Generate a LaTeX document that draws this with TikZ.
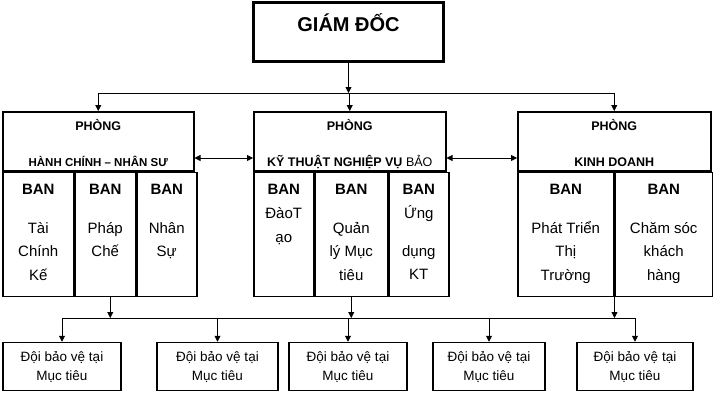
\documentclass[tikz,border=0pt]{standalone}
\usepackage{fontspec}
\setmainfont{Liberation Sans}
\usetikzlibrary{positioning,arrows.meta}
\tikzset{chief/.style={draw,line width=2.4pt,minimum width=190pt,minimum height=59pt},
  chief text/.style={font=\bfseries\fontsize{20}{22}\selectfont,inner sep=0pt,text height=14pt,text depth=0pt},
  room/.style={draw,line width=1.5pt,anchor=north west,minimum height=59pt},
  room text/.style={font=\bfseries\fontsize{12.5}{15}\selectfont,inner sep=0pt,text height=9pt,text depth=0pt},
  ban/.style={draw,line width=1.5pt,anchor=north west,minimum height=124pt},
  ban text/.style={align=center,inner sep=0pt,font=\fontsize{15}{23.5}\selectfont},
  team/.style={draw,line width=1.5pt,minimum height=48pt,align=center,font=\fontsize{13.5}{19}\selectfont},
  link/.style={line width=0.8pt,-{Triangle[length=6pt,width=6pt]}},
  both/.style={line width=0.8pt,{Triangle[length=6pt,width=6pt]}-{Triangle[length=6pt,width=6pt]}},
}
\begin{document}
\begin{tikzpicture}[x=1pt,y=-1pt]
\useasboundingbox (0,0) rectangle (714,402);
\node[chief] (GD) at (348.5,32) {};
\node[chief text, below=15.5pt of GD.north] (GDt) {GIÁM ĐỐC};

% cac phong
\node[room,minimum width=191pt] (HC) at (2,111) {};
\node[room,minimum width=192pt] (KT) at (253,111) {};
\node[room,minimum width=193pt] (KD) at (517,111) {};
\node[room text, below=10pt of HC.north] (HCa) {PHÒNG};
\node[room text, above=5pt of HC.south, font=\bfseries\fontsize{11.5}{15}\selectfont] (HCb) {HÀNH CHÍNH – NHÂN SƯ};
\node[room text, below=10pt of KT.north] (KTa) {PHÒNG};
\node[room text, above=5pt of KT.south] (KTb) {KỸ THUẬT NGHIỆP VỤ \textmd{BẢO}};
\node[room text, below=10pt of KD.north] (KDa) {PHÒNG};
\node[room text, above=5pt of KD.south] (KDb) {KINH DOANH};

% cac ban
\node[ban,minimum width=71pt] (HC1) at (HC.south west) {};
\node[ban,minimum width=60pt] (HC2) at (HC1.north east) {};
\node[ban,minimum width=60pt] (HC3) at (HC2.north east) {};
\node[ban,minimum width=60pt] (KT1) at (KT.south west) {};
\node[ban,minimum width=72pt] (KT2) at (KT1.north east) {};
\node[ban,minimum width=60pt] (KT3) at (KT2.north east) {};
\node[ban,minimum width=96pt] (KD1) at (KD.south west) {};
\node[ban,minimum width=97pt] (KD2) at (KD1.north east) {};

\node[ban text, below=12pt of HC1.north] (HC1t) {\textbf{BAN}\\[15.5pt]Tài\\Chính\\Kế};
\node[ban text, below=12pt of HC2.north] (HC2t) {\textbf{BAN}\\[15.5pt]Pháp\\Chế};
\node[ban text, below=12pt of HC3.north] (HC3t) {\textbf{BAN}\\[15.5pt]Nhân\\Sự};
\node[ban text, below=12pt of KT1.north] (KT1t) {\textbf{BAN}\\[1pt]ĐàoT\\ạo};
\node[ban text, below=12pt of KT2.north] (KT2t) {\textbf{BAN}\\[15.5pt]Quản\\lý Mục\\tiêu};
\node[ban text, below=12pt of KT3.north] (KT3t) {\textbf{BAN}\\[1pt]Ứng\\[14pt]dụng\\KT};
\node[ban text, below=12pt of KD1.north] (KD1t) {\textbf{BAN}\\[15.5pt]Phát Triển\\Thị\\Trường};
\node[ban text, below=12pt of KD2.north] (KD2t) {\textbf{BAN}\\[15.5pt]Chăm sóc\\khách\\hàng};

% doi bao ve
\node[team,minimum width=118pt] (T1) at (62,366.5) {Đội bảo vệ tại\\Mục tiêu};
\node[team,minimum width=121pt] (T2) at (217.5,366.5) {Đội bảo vệ tại\\Mục tiêu};
\node[team,minimum width=118pt] (T3) at (348,366.5) {Đội bảo vệ tại\\Mục tiêu};
\node[team,minimum width=112pt] (T4) at (489,366.5) {Đội bảo vệ tại\\Mục tiêu};
\node[team,minimum width=116pt] (T5) at (635,366.5) {Đội bảo vệ tại\\Mục tiêu};

\coordinate (bus1) at (348,93);
\draw[link] (GD.south) -- (GD.south |- bus1);
\draw[line width=0.8pt] (HC.north |- bus1) -- (KD.north |- bus1);
\foreach \r in {HC,KT,KD}
  \draw[link] (\r.north |- bus1) -- (\r.north);

\coordinate (mid) at (0,158);
\draw[both] (HC.east |- mid) -- (KT.west |- mid);
\draw[both] (KT.east |- mid) -- (KD.west |- mid);

\coordinate (bus2) at (0,318);
\coordinate (HCo) at ([xshift=5pt]HC2.south);
\draw[line width=0.8pt] (T1.north |- bus2) -- (T5.north |- bus2);
\draw[link] (HCo) -- (HCo |- bus2);
\draw[link] (KT2.south) -- (KT2.south |- bus2);
\draw[link] (KD1.south east) -- (KD1.south east |- bus2);
\foreach \t in {T1,T2,T3,T4,T5}
  \draw[link] (\t.north |- bus2) -- (\t.north);
\end{tikzpicture}
\end{document}
